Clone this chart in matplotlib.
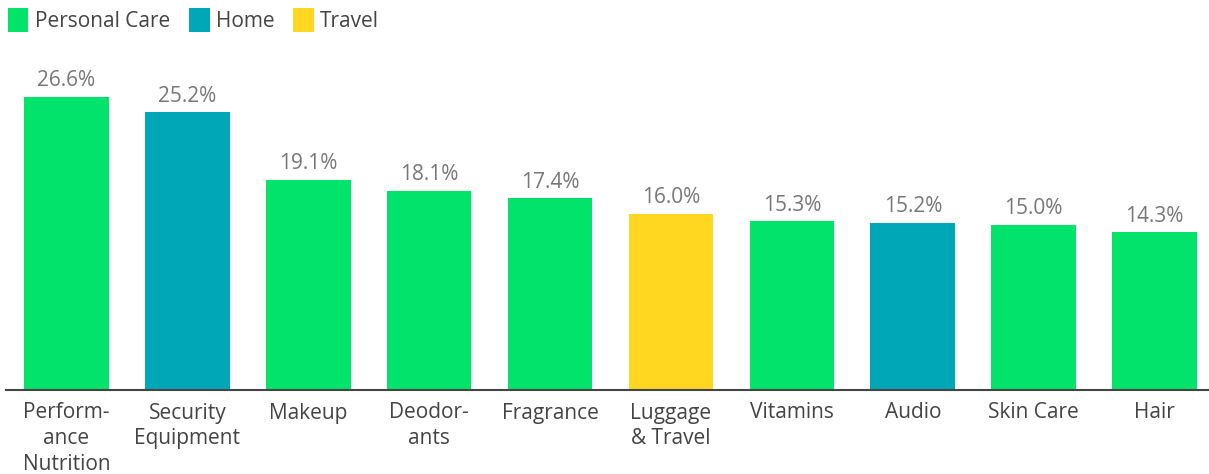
import matplotlib.pyplot as plt
from matplotlib.patches import Patch

categories = ["Perform-\nance\nNutrition", "Security\nEquipment", "Makeup", "Deodor-\nants",
              "Fragrance", "Luggage\n& Travel", "Vitamins", "Audio", "Skin Care", "Hair"]
values = [26.6, 25.2, 19.1, 18.1, 17.4, 16.0, 15.3, 15.2, 15.0, 14.3]
groups = ["Personal Care", "Home", "Personal Care", "Personal Care", "Personal Care",
          "Travel", "Personal Care", "Home", "Personal Care", "Personal Care"]

group_colors = {"Personal Care": "#02E36C", "Home": "#00A7B7", "Travel": "#FFD620"}

plt.rcParams['font.family'] = ['Open Sans', 'DejaVu Sans']

fig = plt.figure(figsize=(12.09, 4.74), dpi=100)
ax = fig.add_axes([6 / 1209, 84 / 474, 1203 / 1209, 330 / 474])

x = range(len(values))
bars = ax.bar(x, values, width=0.70, color=[group_colors[g] for g in groups])

for xi, v in zip(x, values):
    ax.text(xi, v + 0.5, f"{v:.1f}%", ha='center', va='bottom', fontsize=15, color='#777777')

ax.set_xlim(-0.5, 9.45)
ax.set_ylim(0, 29.95)
ax.set_xticks(list(x))
ax.set_xticklabels(categories, fontsize=15, color='#444444', linespacing=1.3, va='top')
ax.tick_params(axis='x', length=0, pad=9)
ax.set_yticks([])
for s in ['top', 'right', 'left']:
    ax.spines[s].set_visible(False)
ax.spines['bottom'].set_color('#444444')
ax.spines['bottom'].set_linewidth(1.5)

handles = [Patch(facecolor=c, label=g) for g, c in group_colors.items()]
fig.legend(handles=handles, loc='upper left', bbox_to_anchor=(-0.004, 1.01), ncol=3, frameon=False,
           fontsize=15, handlelength=1.0, handleheight=1.4, handletextpad=0.3, columnspacing=0.9,
           labelcolor='#444444', borderaxespad=0.2)

fig.savefig("out.png", dpi=100)
